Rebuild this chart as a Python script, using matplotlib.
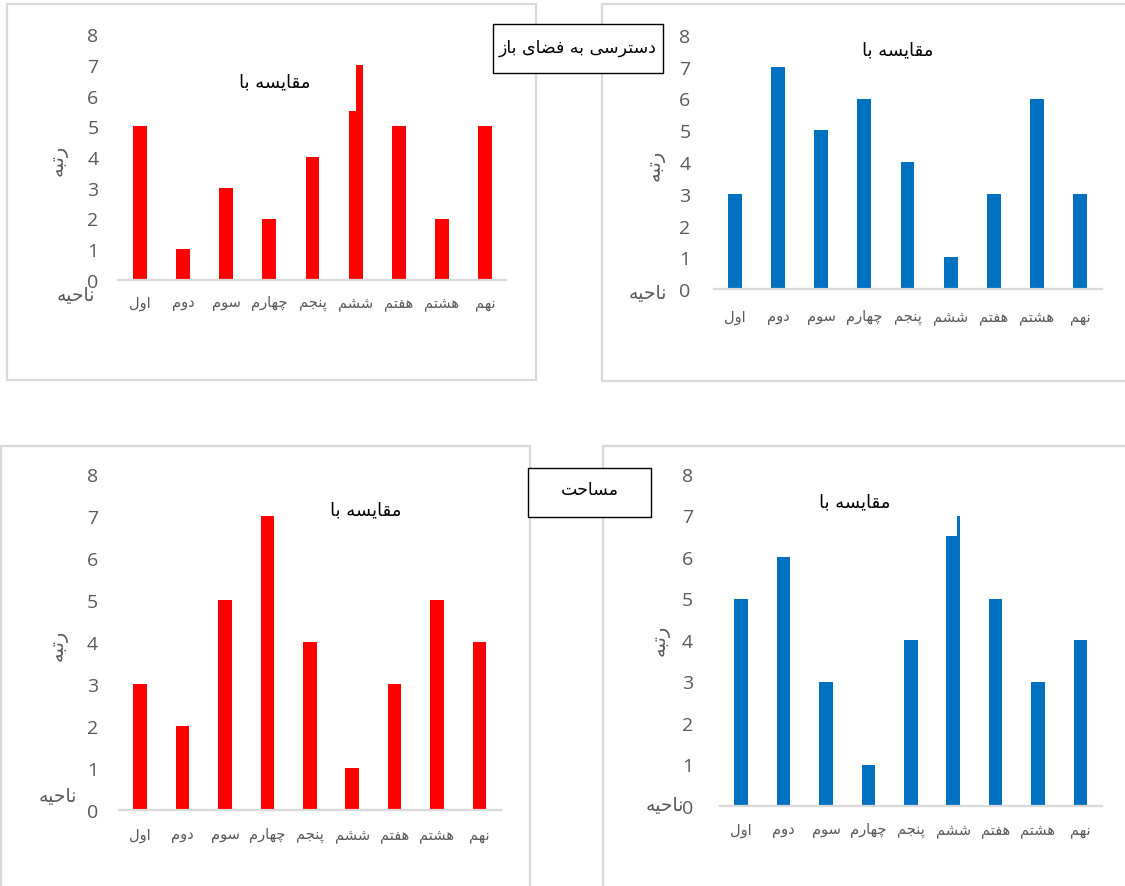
import matplotlib
matplotlib.use("Agg")
import matplotlib.pyplot as plt
from matplotlib.patches import Rectangle

# Ranks of the nine districts for each comparison
districts = ["اول", "دوم", "سوم", "چهارم", "پنجم", "ششم", "هفتم", "هشتم", "نهم"]
open_space_red = [5, 1, 3, 2, 4, 7, 5, 2, 5]
open_space_blue = [3, 7, 5, 6, 4, 1, 3, 6, 3]
area_red = [3, 2, 5, 7, 4, 1, 3, 5, 4]
area_blue = [5, 6, 3, 1, 4, 7, 5, 3, 4]
# the sixth-district bar has a shoulder below its top in two charts
open_space_red_shoulder = 5.5
area_blue_shoulder = 6.5

title_text = "مقایسه با"
ylabel_text = "رتبه"
xlabel_text = "ناحیه"
open_space_text = "دسترسی به فضای باز"
area_text = "مساحت"

RED = "#FF0000"
BLUE = "#0070C0"
GRID = "#D9D9D9"
TICK = "#595959"
AR_FONT = ["DejaVu Sans"]
NUM_FONT = ["Open Sans", "DejaVu Sans"]

# --- minimal Persian shaping: contextual forms, then right-to-left order ---
FORMS = {
    "ا": ("\uFE8D", "\uFE8E", None, None),
    "ب": ("\uFE8F", "\uFE90", "\uFE91", "\uFE92"),
    "پ": ("\uFB56", "\uFB57", "\uFB58", "\uFB59"),
    "ت": ("\uFE95", "\uFE96", "\uFE97", "\uFE98"),
    "ج": ("\uFE9D", "\uFE9E", "\uFE9F", "\uFEA0"),
    "چ": ("\uFB7A", "\uFB7B", "\uFB7C", "\uFB7D"),
    "ح": ("\uFEA1", "\uFEA2", "\uFEA3", "\uFEA4"),
    "د": ("\uFEA9", "\uFEAA", None, None),
    "ر": ("\uFEAD", "\uFEAE", None, None),
    "ز": ("\uFEAF", "\uFEB0", None, None),
    "س": ("\uFEB1", "\uFEB2", "\uFEB3", "\uFEB4"),
    "ش": ("\uFEB5", "\uFEB6", "\uFEB7", "\uFEB8"),
    "ض": ("\uFEBD", "\uFEBE", "\uFEBF", "\uFEC0"),
    "ف": ("\uFED1", "\uFED2", "\uFED3", "\uFED4"),
    "ق": ("\uFED5", "\uFED6", "\uFED7", "\uFED8"),
    "ل": ("\uFEDD", "\uFEDE", "\uFEDF", "\uFEE0"),
    "م": ("\uFEE1", "\uFEE2", "\uFEE3", "\uFEE4"),
    "ن": ("\uFEE5", "\uFEE6", "\uFEE7", "\uFEE8"),
    "ه": ("\uFEE9", "\uFEEA", "\uFEEB", "\uFEEC"),
    "و": ("\uFEED", "\uFEEE", None, None),
    "ی": ("\uFBFC", "\uFBFD", "\uFBFE", "\uFBFF"),
}


def fa(text):
    out = []
    for i, ch in enumerate(text):
        if ch not in FORMS:
            out.append(ch)
            continue
        iso, fin, ini, med = FORMS[ch]
        prev = text[i - 1] if i > 0 else ""
        nxt = text[i + 1] if i + 1 < len(text) else ""
        joins_prev = prev in FORMS and FORMS[prev][2] is not None
        joins_next = ini is not None and nxt in FORMS
        if joins_prev and joins_next:
            out.append(med)
        elif joins_prev:
            out.append(fin)
        elif joins_next:
            out.append(ini)
        else:
            out.append(iso)
    return "".join(reversed(out))


W, H = 1125, 887
fig = plt.figure(figsize=(W / 100, H / 100), dpi=100)
fig.patch.set_facecolor("white")


def fx(x):
    return x / W


def fy(y):
    return 1 - y / H


def frame(x0, y0, x1, y1, color=GRID, lw=1.6, z=1):
    fig.add_artist(Rectangle((fx(x0), fy(y1)), (x1 - x0) / W, (y1 - y0) / H,
                             transform=fig.transFigure, facecolor="white",
                             edgecolor=color, linewidth=lw, zorder=z))


def panel(values, color, border, plot, ypad, xpad, title_xy, ylab_xy,
          xlab_xy, xlab_ha="center", shoulder=None):
    frame(*border)
    left, right, y0, y8 = plot
    ax = fig.add_axes([fx(left), fy(y0), (right - left) / W, (y0 - y8) / H])
    ax.set_zorder(3)
    ax.patch.set_alpha(0)
    x = list(range(len(values)))
    width = 0.32
    for i, v in zip(x, values):
        if shoulder is not None and v > shoulder[1] and i == shoulder[0]:
            lo, narrow = shoulder[1], shoulder[2]
            ax.bar(i, lo, width=width, color=color)
            ax.bar(i + width / 2, v - lo, width=-narrow, bottom=lo,
                   align="edge", color=color)
        else:
            ax.bar(i, v, width=width, color=color)
    ax.set_xlim(-0.5, len(values) - 0.5)
    ax.set_ylim(0, 8)
    ax.set_yticks(range(0, 9))
    ax.set_xticks(x)
    ax.set_xticklabels([fa(d) for d in districts], family=AR_FONT,
                       fontsize=10.5, color=TICK)
    for lab in ax.get_yticklabels():
        lab.set_family(NUM_FONT)
    ax.tick_params(axis="y", length=0, pad=ypad * 0.72, labelsize=14,
                   labelcolor=TICK)
    ax.tick_params(axis="x", length=0, pad=xpad * 0.72)
    for s in ("left", "right", "top"):
        ax.spines[s].set_visible(False)
    ax.spines["bottom"].set_color(GRID)
    ax.spines["bottom"].set_linewidth(1.6)

    fig.text(fx(title_xy[0]), fy(title_xy[1]), fa(title_text), family=AR_FONT,
             fontsize=13, color="black", ha="center", va="center", zorder=4)
    fig.text(fx(ylab_xy[0]), fy(ylab_xy[1]), fa(ylabel_text), family=AR_FONT,
             fontsize=14, color=TICK, ha="center", va="center", rotation=90,
             zorder=4)
    fig.text(fx(xlab_xy[0]), fy(xlab_xy[1]), fa(xlabel_text), family=AR_FONT,
             fontsize=13.5, color=TICK, ha=xlab_ha, va="center", zorder=4)
    return ax


# top-left: open space, red
panel(open_space_red, RED, (7, 5, 536, 381), (118.5, 506.5, 281, 35),
      20, 15, (275, 82), (58, 160), (76, 296),
      shoulder=(5, open_space_red_shoulder, 0.16))
# top-right: open space, blue
panel(open_space_blue, BLUE, (602, 5, 1135, 382), (713.5, 1101.5, 290, 36),
      23, 20, (898, 50), (655, 165), (648, 293))
# bottom-left: area, red
panel(area_red, RED, (1, 447, 530, 895), (119, 500.5, 811, 475),
      21, 17, (366, 510), (58, 645), (58, 797))
# bottom-right: area, blue
panel(area_blue, BLUE, (603, 447, 1135, 895), (720, 1101.5, 807, 475),
      27, 16, (855, 502), (660, 640), (684, 806), xlab_ha="right",
      shoulder=(5, area_blue_shoulder, 0.08))

# criterion boxes between the panels
frame(493, 25, 663, 74, color="black", lw=1.0, z=5)
fig.text(fx(578), fy(48), fa(open_space_text), family=AR_FONT, fontsize=12.5,
         color="black", ha="center", va="center", zorder=6)
frame(528, 469, 651, 518, color="black", lw=1.0, z=5)
fig.text(fx(590), fy(490), fa(area_text), family=AR_FONT, fontsize=12.5,
         color="black", ha="center", va="center", zorder=6)

fig.savefig("out.png", dpi=100)
